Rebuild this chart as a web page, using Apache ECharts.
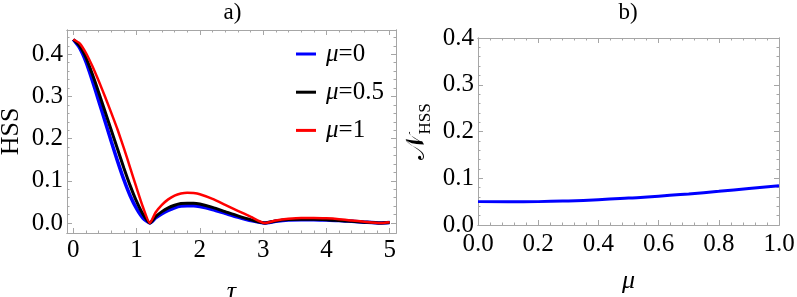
<!DOCTYPE html>
<html>
<head>
<meta charset="utf-8">
<script src="https://cdn.jsdelivr.net/npm/echarts@6/dist/echarts.min.js"></script>
<style>html,body{margin:0;padding:0;background:#fff;}#c{width:797px;height:297px;}</style>
</head>
<body>
<div id="c"></div>
<script>
// ---- data ----
const tau = [0,0.1,0.2,0.3,0.4,0.5,0.6,0.7,0.8,0.9,1.0,1.1,1.21,1.3,1.4,1.5,1.6,1.7,1.8,1.9,2.0,2.2,2.4,2.6,2.8,3.02,3.2,3.4,3.6,3.8,4.0,4.2,4.4,4.6,4.85,5.0];
const hssMu0 = [0.435,0.415,0.382,0.338,0.29,0.242,0.193,0.146,0.102,0.064,0.034,0.012,0,0.012,0.022,0.03,0.036,0.04,0.041,0.041,0.039,0.032,0.023,0.014,0.006,0,0.004,0.007,0.008,0.008,0.007,0.006,0.004,0.002,0,0.001];
const hssMu05 = [0.435,0.42,0.392,0.353,0.31,0.265,0.22,0.175,0.13,0.088,0.051,0.021,0,0.015,0.027,0.036,0.042,0.046,0.047,0.047,0.045,0.037,0.027,0.017,0.008,0,0.005,0.008,0.009,0.009,0.008,0.006,0.004,0.002,0,0.001];
const hssMu1 = [0.435,0.426,0.403,0.372,0.337,0.3,0.261,0.221,0.177,0.13,0.083,0.038,0,0.025,0.043,0.056,0.065,0.07,0.072,0.071,0.068,0.057,0.043,0.029,0.015,0,0.006,0.01,0.012,0.012,0.011,0.009,0.006,0.003,0,0.002];
const seriesNames = ['μ=0','μ=0.5','μ=1'];

const mu = [0,0.1,0.2,0.3,0.4,0.5,0.6,0.7,0.8,0.9,1.0];
const nHss = [0.0500,0.0496,0.0500,0.0515,0.0540,0.0575,0.0615,0.0665,0.0720,0.0780,0.0840];

// tick labels
const tauTicks = [0,1,2,3,4,5];
const hssTicks = [0,0.1,0.2,0.3,0.4];
const muTicks = [0,0.2,0.4,0.6,0.8,1.0];
const nTicks = [0,0.1,0.2,0.3,0.4];

// ---- helpers ----
const FONT = "'Liberation Serif','Times New Roman',serif";
const FRAME = '#a6a6a6';
function minors(majors, step, lo, hi) {
  const out = [];
  const n = Math.round((hi - lo) / step);
  for (let i = 0; i <= n; i++) {
    const v = +(lo + i * step).toFixed(6);
    if (!majors.some(m => Math.abs(m - v) < 1e-9)) out.push(v);
  }
  return out;
}
function axisSet(kind, gridIndex, min, max, majors, minorVals, labelFmt, labelMargin, nameOpts) {
  const posMain = kind === 'x' ? 'bottom' : 'left';
  const posMirror = kind === 'x' ? 'top' : 'right';
  const base = {
    gridIndex, type: 'value', min, max,
    splitLine: { show: false },
    axisLine: { show: true, onZero: false, lineStyle: { color: FRAME, width: 1 } }
  };
  const major = (pos, labels) => Object.assign({}, base, {
    position: pos,
    axisTick: { show: true, inside: true, length: 5, customValues: majors, lineStyle: { color: FRAME, width: 1 } },
    axisLabel: labels ? {
      show: true, customValues: majors, formatter: labelFmt,
      color: '#000', fontSize: 25, fontFamily: FONT, margin: labelMargin
    } : { show: false }
  }, labels && nameOpts ? nameOpts : {});
  const minor = (pos) => Object.assign({}, base, {
    position: pos,
    axisTick: { show: true, inside: true, length: 2.5, customValues: minorVals, lineStyle: { color: FRAME, width: 1 } },
    axisLabel: { show: false }
  });
  return [major(posMain, true), minor(posMain), major(posMirror, false), minor(posMirror)];
}

const xA = axisSet('x', 0, -0.1, 5.1, tauTicks, minors(tauTicks, 0.2, 0, 5), v => String(Math.round(v)), 5,
  { name: 'τ', nameLocation: 'middle', nameGap: 46, nameTextStyle: { fontFamily: FONT, fontStyle: 'italic', fontSize: 26, color: '#000' } });
const yA = axisSet('y', 0, -0.0237, 0.4575, hssTicks, minors(hssTicks, 0.02, 0, 0.44), v => v.toFixed(1), 4,
  { name: 'HSS', nameLocation: 'middle', nameGap: 43, nameRotate: 90, nameTextStyle: { fontFamily: FONT, fontSize: 26, color: '#000' } });
const xB = axisSet('x', 1, 0, 1, muTicks, minors(muTicks, 0.04, 0, 1), v => v.toFixed(1), 7,
  { name: 'μ', nameLocation: 'middle', nameGap: 43, nameTextStyle: { fontFamily: FONT, fontStyle: 'italic', fontSize: 26, color: '#000' } });
const yB = axisSet('y', 1, 0, 0.4, nTicks, minors(nTicks, 0.02, 0, 0.4), v => v.toFixed(1), 4,
  { name: '{n|𝒩}{s|HSS}', nameLocation: 'middle', nameGap: 44, nameRotate: 90,
    nameTextStyle: { color: '#000', rich: {
      n: { fontFamily: "'DejaVu Serif','DejaVu Sans','Noto Sans',serif", fontSize: 26, color: '#000', verticalAlign: 'top', lineHeight: 30 },
      s: { fontFamily: FONT, fontSize: 17, color: '#000', verticalAlign: 'bottom', lineHeight: 20 }
    } } });

const xAxes = xA.concat(xB);
const yAxes = yA.concat(yB);

const pair = (xs, ys) => xs.map((x, i) => [x, ys[i]]);

const option = {
  backgroundColor: '#fff',
  animation: false,
  textStyle: { fontFamily: FONT },
  grid: [
    { left: 67, top: 30, width: 329, height: 203, containLabel: false, outerBoundsMode: 'none' },
    { left: 478, top: 38, width: 301, height: 187, containLabel: false, outerBoundsMode: 'none' }
  ],
  xAxis: xAxes,
  yAxis: yAxes,
  legend: {
    data: seriesNames,
    orient: 'vertical',
    left: 291, top: 36,
    itemWidth: 20, itemHeight: 3, itemGap: 12.2,
    icon: 'rect',
    formatter: n => '{m|μ}{t|' + n.slice(1) + '}',
    textStyle: {
      fontFamily: FONT, fontSize: 25, lineHeight: 26, color: '#000',
      rich: {
        m: { fontFamily: FONT, fontStyle: 'italic', fontSize: 25, lineHeight: 26, color: '#000', padding: [0, 0, 0, 5] },
        t: { fontFamily: FONT, fontSize: 25, lineHeight: 26, color: '#000' }
      }
    }
  },
  graphic: [
    { type: 'text', x: 232.5, y: 12.5, style: { text: 'a)', font: '23px ' + FONT, fill: '#000', textAlign: 'center', textVerticalAlign: 'middle' } },
    { type: 'text', x: 628, y: 12.5, style: { text: 'b)', font: '23px ' + FONT, fill: '#000', textAlign: 'center', textVerticalAlign: 'middle' } }
  ],
  series: [
    { name: seriesNames[0], type: 'line', xAxisIndex: 0, yAxisIndex: 0, data: pair(tau, hssMu0), symbol: 'none', smooth: 0.2, color: '#0000ff', lineStyle: { color: '#0000ff', width: 3.5 } },
    { name: seriesNames[1], type: 'line', xAxisIndex: 0, yAxisIndex: 0, data: pair(tau, hssMu05), symbol: 'none', smooth: 0.2, color: '#000000', lineStyle: { color: '#000000', width: 3 } },
    { name: seriesNames[2], type: 'line', xAxisIndex: 0, yAxisIndex: 0, data: pair(tau, hssMu1), symbol: 'none', smooth: 0.2, color: '#ff0000', lineStyle: { color: '#ff0000', width: 2.5 } },
    { name: 'NHSS', type: 'line', xAxisIndex: 4, yAxisIndex: 4, data: pair(mu, nHss), symbol: 'none', smooth: true, color: '#0000ff', lineStyle: { color: '#0000ff', width: 3 } }
  ]
};

const chart = echarts.init(document.getElementById('c'), null, { renderer: 'canvas' });
chart.setOption(option);
</script>
</body>
</html>
